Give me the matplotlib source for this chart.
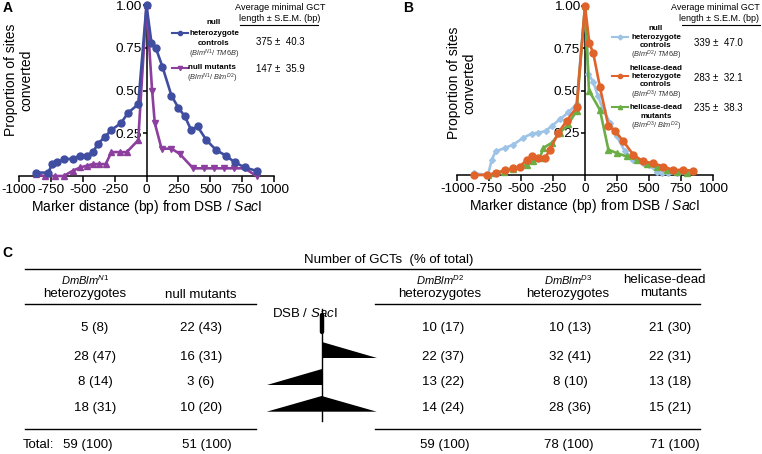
import numpy as np
import matplotlib
matplotlib.use('Agg')
import matplotlib.pyplot as plt
from matplotlib.lines import Line2D
from matplotlib.patches import Polygon

plt.rcParams['font.family'] = ['Liberation Sans', 'DejaVu Sans']
plt.rcParams['axes.unicode_minus'] = False
plt.rcParams['mathtext.fontset'] = 'custom'
plt.rcParams['mathtext.it'] = 'Liberation Sans:italic'
plt.rcParams['mathtext.rm'] = 'Liberation Sans'
plt.rcParams['mathtext.bf'] = 'Liberation Sans:bold'

# ---- panel A data (bp from DSB, proportion converted)
a_het_x = [-870, -770, -740, -700, -645, -575, -525, -470, -420, -380, -325, -275, -200, -145, -65,
           0, 39, 73, 125, 196, 250, 300, 350, 400, 470, 549, 622, 692, 771, 863]
a_het_y = [0.02, 0.02, 0.07, 0.08, 0.10, 0.10, 0.12, 0.12, 0.14, 0.19, 0.23, 0.27, 0.31, 0.37, 0.42,
           1.00, 0.78, 0.75, 0.64, 0.47, 0.40, 0.35, 0.27, 0.29, 0.21, 0.15, 0.12, 0.08, 0.05, 0.03]
a_mut_x = [-870, -800, -720, -650, -580, -520, -470, -420, -370, -320, -275, -210, -155, -65,
           0, 44, 65, 118, 196, 260, 366, 450, 530, 610, 690, 770, 863]
a_mut_y = [0.01, 0.0, 0.0, 0.0, 0.03, 0.05, 0.06, 0.07, 0.07, 0.07, 0.14, 0.14, 0.14, 0.21,
           1.00, 0.50, 0.31, 0.16, 0.16, 0.13, 0.045, 0.045, 0.045, 0.045, 0.045, 0.045, 0.0]

# ---- panel B data
b_d2het_x = [-870, -760, -730, -700, -626, -561, -483, -418, -366, -308, -261, -196, -131, -66,
             0, 26, 65, 100, 143, 196, 248, 313, 378, 456, 500, 561, 600, 650, 720, 800]
b_d2het_y = [0.01, 0.0, 0.09, 0.14, 0.16, 0.18, 0.22, 0.245, 0.25, 0.26, 0.29, 0.33, 0.37, 0.42,
             1.00, 0.60, 0.55, 0.47, 0.385, 0.31, 0.23, 0.14, 0.09, 0.07, 0.06, 0.02, 0.01, 0.01, 0.01, 0.01]
b_d3het_x = [-870, -770, -700, -627, -561, -509, -457, -418, -366, -314, -274, -209, -144, -66,
             0, 34, 65, 117, 183, 235, 300, 378, 456, 535, 613, 691, 770, 848]
b_d3het_y = [0.0, 0.0, 0.01, 0.03, 0.04, 0.05, 0.09, 0.11, 0.10, 0.10, 0.15, 0.25, 0.32, 0.40,
             1.00, 0.78, 0.72, 0.52, 0.29, 0.26, 0.20, 0.12, 0.08, 0.07, 0.05, 0.03, 0.03, 0.025]
b_hd_x = [-760, -710, -633, -561, -457, -405, -353, -327, -261, -196, -131, -66,
          0, 31, 117, 183, 248, 326, 404, 483, 561, 640, 718, 796]
b_hd_y = [0.0, 0.01, 0.02, 0.035, 0.06, 0.08, 0.10, 0.16, 0.19, 0.25, 0.30, 0.38,
          1.00, 0.50, 0.385, 0.15, 0.13, 0.11, 0.09, 0.065, 0.045, 0.03, 0.02, 0.01]

gct_a = ['375 ±  40.3', '147 ±  35.9']
gct_b = ['339 ±  47.0', '283 ±  32.1', '235 ±  38.3']

# ---- panel C table
col_heads = [(r'$DmBlm^{N1}$', 'heterozygotes'), (None, 'null mutants'),
             (r'$DmBlm^{D2}$', 'heterozygotes'), (r'$DmBlm^{D3}$', 'heterozygotes'),
             ('helicase-dead', 'mutants')]
counts = [[5, 28, 8, 18], [22, 16, 3, 10], [10, 22, 13, 14], [10, 32, 8, 28], [21, 22, 13, 15]]
pcts = [[8, 47, 14, 31], [43, 31, 6, 20], [17, 37, 22, 24], [13, 41, 10, 36], [30, 31, 18, 21]]
totals = [59, 51, 59, 78, 71]

c_blue = '#3f4ea0'
c_purple = '#8c3f9e'
c_lblue = '#9dc3e6'
c_orange = '#e0632a'
c_green = '#6aae45'

W, H = 762, 454
fig = plt.figure(figsize=(W / 100, H / 100), dpi=100)


def px_axes(x0, x1, ytop, ybot):
    return fig.add_axes([x0 / W, 1 - ybot / H, (x1 - x0) / W, (ybot - ytop) / H])


def style(ax):
    ax.set_xlim(-1000, 1000)
    ax.set_ylim(0, 1.0)
    ax.spines['top'].set_visible(False)
    ax.spines['right'].set_visible(False)
    ax.spines['left'].set_position(('data', 0))
    for s in ['left', 'bottom']:
        ax.spines[s].set_linewidth(1.1)
    ax.set_xticks(np.arange(-1000, 1001, 250))
    ax.set_yticks([0.25, 0.5, 0.75, 1.0])
    ax.set_yticklabels(['0.25', '0.50', '0.75', '1.00'])
    ax.tick_params(axis='x', length=4, width=1.1, labelsize=9.7, pad=2)
    ax.tick_params(axis='y', length=3, width=1.1, labelsize=9.7, pad=0.5)
    ax.patch.set_alpha(0)
    ax.set_xlabel(r'Marker distance (bp) from DSB / $\it{Sac}$I', fontsize=10, labelpad=1)


def curve(ax, xs, ys, color, mk, ms, mk_right=None):
    xs = np.array(xs)
    ys = np.array(ys)
    ax.plot(xs, ys, color=color, lw=1.9, clip_on=False, zorder=3)
    if mk_right is None:
        ax.plot(xs, ys, ls='', marker=mk, ms=ms, color=color, clip_on=False, zorder=3)
    else:
        ax.plot(xs[xs <= 0], ys[xs <= 0], ls='', marker=mk, ms=ms, color=color, clip_on=False, zorder=3)
        ax.plot(xs[xs > 0], ys[xs > 0], ls='', marker=mk_right, ms=ms, color=color, clip_on=False, zorder=3)


axA = px_axes(19, 274, 5.3, 176)
style(axA)
curve(axA, a_mut_x, a_mut_y, c_purple, '^', 4.5, 'v')
curve(axA, a_het_x, a_het_y, c_blue, 'o', 5)

axB = px_axes(457.3, 712.7, 6, 175)
style(axB)
curve(axB, b_d2het_x, b_d2het_y, c_lblue, 'D', 3)
curve(axB, b_hd_x, b_hd_y, c_green, '^', 4.5)
curve(axB, b_d3het_x, b_d3het_y, c_orange, 'o', 5)

# overlay in pixel coordinates for text / table
ov = fig.add_axes([0, 0, 1, 1])
ov.set_xlim(0, W)
ov.set_ylim(H, 0)
ov.axis('off')
ov.patch.set_alpha(0)

ylab = 'Proportion of sites\nconverted'
ov.text(18.5, 80, ylab, rotation=90, ha='center', va='center', fontsize=10, multialignment='center', linespacing=1.1)
ov.text(461.5, 83, ylab, rotation=90, ha='center', va='center', fontsize=10, multialignment='center', linespacing=1.1)

ov.text(8, 8, 'A', fontsize=10, fontweight='bold', ha='center', va='center')
ov.text(408, 8, 'B', fontsize=10, fontweight='bold', ha='center', va='center')
ov.text(7, 253, 'C', fontsize=10, fontweight='bold', ha='center', va='center')

fs_leg = 5.8
fs_it = 5.3


def legend_line(x_line, y_line, color, mk, ms):
    ov.add_line(Line2D([x_line, x_line + 16], [y_line, y_line], color=color, lw=1.5))
    ov.add_line(Line2D([x_line + 8], [y_line], color=color, marker=mk, ms=ms, ls=''))


def legend_text(xc, lines):
    for txt, y, kind in lines:
        if kind == 'b':
            ov.text(xc, y, txt, fontsize=fs_leg, fontweight='bold', ha='center', va='center')
        else:
            ov.text(xc, y, txt, fontsize=fs_it, ha='center', va='center', color='#333333')


# panel A legend
legend_line(172, 33.3, c_blue, 'o', 3)
legend_line(172, 68.3, c_purple, 'v', 3)
legend_text(214, [('null', 22.7, 'b'), ('heterozygote', 33.3, 'b'), ('controls', 43.7, 'b'),
                  (r'$(Blm^{N1}/\ TM6B)$', 54, 'i')])
legend_text(212, [('null mutants', 67.7, 'b'), (r'$(Blm^{N1}/\ Blm^{D2})$', 78, 'i')])

ov.text(280, 7.5, 'Average minimal GCT', fontsize=6.6, ha='center', va='center')
ov.text(280, 18.5, 'length ± S.E.M. (bp)', fontsize=6.6, ha='center', va='center')
ov.plot([240, 318], [25, 25], color='k', lw=0.8)
for txt, y in zip(gct_a, [42.3, 69.3]):
    ov.text(280, y, txt, fontsize=7, ha='center', va='center')

# panel B legend
legend_line(612, 37.3, c_lblue, 'D', 2.5)
legend_line(612, 76, c_orange, 'o', 3)
legend_line(612, 107.3, c_green, '^', 3)
legend_text(656, [('null', 29, 'b'), ('heterozygote', 37.3, 'b'), ('controls', 45.7, 'b'),
                  (r'$(Blm^{D2}/\ TM6B)$', 55.5, 'i'),
                  ('helicase-dead', 68.3, 'b'), ('heterozygote', 76.7, 'b'), ('controls', 85, 'b'),
                  (r'$(Blm^{D3}/\ TM6B)$', 95.5, 'i'),
                  ('helicase-dead', 107.3, 'b'), ('mutants', 116.7, 'b'),
                  (r'$(Blm^{D3}/\ Blm^{D2})$', 126.5, 'i')])

ov.text(760, 7.5, 'Average minimal GCT', fontsize=6.5, ha='right', va='center')
ov.text(759, 18.5, 'length ± S.E.M. (bp)', fontsize=6.5, ha='right', va='center')
ov.plot([682, 760], [25, 25], color='k', lw=0.8)
for txt, y in zip(gct_b, [42.7, 77.7, 108.3]):
    ov.text(718, y, txt, fontsize=7, ha='center', va='center')

# ---- panel C
fs_t = 9.5
ov.text(389, 260, 'Number of GCTs  (% of total)', fontsize=fs_t, ha='center', va='center')
ov.plot([25, 700], [269, 269], color='k', lw=1.0)
ov.plot([25, 256], [304, 304], color='k', lw=1.0)
ov.plot([375, 700], [304, 304], color='k', lw=1.0)
ov.plot([25, 256], [429, 429], color='k', lw=1.0)
ov.plot([375, 700], [429, 429], color='k', lw=1.0)

head_x = [85, 200.7, 440, 568, 664]
val_x = [95, 200.7, 443, 570, 670]
tot_x = [87.5, 206.7, 445, 569, 675]
row_y = [327.7, 357.3, 381.7, 408.3]

for i, (h1, h2) in enumerate(col_heads):
    if h1 is None:
        ov.text(head_x[i], 295, h2, fontsize=fs_t, ha='center', va='center')
    elif h1.startswith('$'):
        ov.text(head_x[i], 280, h1, fontsize=8, ha='center', va='center')
        ov.text(head_x[i], 294, h2, fontsize=fs_t, ha='center', va='center')
    else:
        ov.text(head_x[i], 280, h1, fontsize=fs_t, ha='center', va='center')
        ov.text(head_x[i], 292.7, h2, fontsize=fs_t, ha='center', va='center')
    for j in range(4):
        ov.text(val_x[i], row_y[j], '%d (%d)' % (counts[i][j], pcts[i][j]), fontsize=fs_t,
                ha='center', va='center')
    ov.text(tot_x[i], 445, '%d (100)' % totals[i], fontsize=fs_t, ha='center', va='center')
ov.text(23, 445, 'Total:', fontsize=fs_t, ha='left', va='center')

# DSB / SacI diagram
ov.text(305, 313.3, r'DSB / $\it{Sac}$I', fontsize=fs_t, ha='center', va='center')
xl = 321.7
ov.plot([xl, xl], [309, 421], color='k', lw=1.0)
ov.plot([xl, xl], [315, 331.7], color='k', lw=3.2, solid_capstyle='round')
ov.add_patch(Polygon([[xl, 341.7], [xl, 358.3], [376.7, 358.3]], closed=True, color='k', lw=0))
ov.add_patch(Polygon([[xl, 369], [xl, 385], [266.7, 385]], closed=True, color='k', lw=0))
ov.add_patch(Polygon([[xl, 396], [376.7, 411.7], [266.7, 411.7]], closed=True, color='k', lw=0))

fig.savefig('out.png', dpi=100)
